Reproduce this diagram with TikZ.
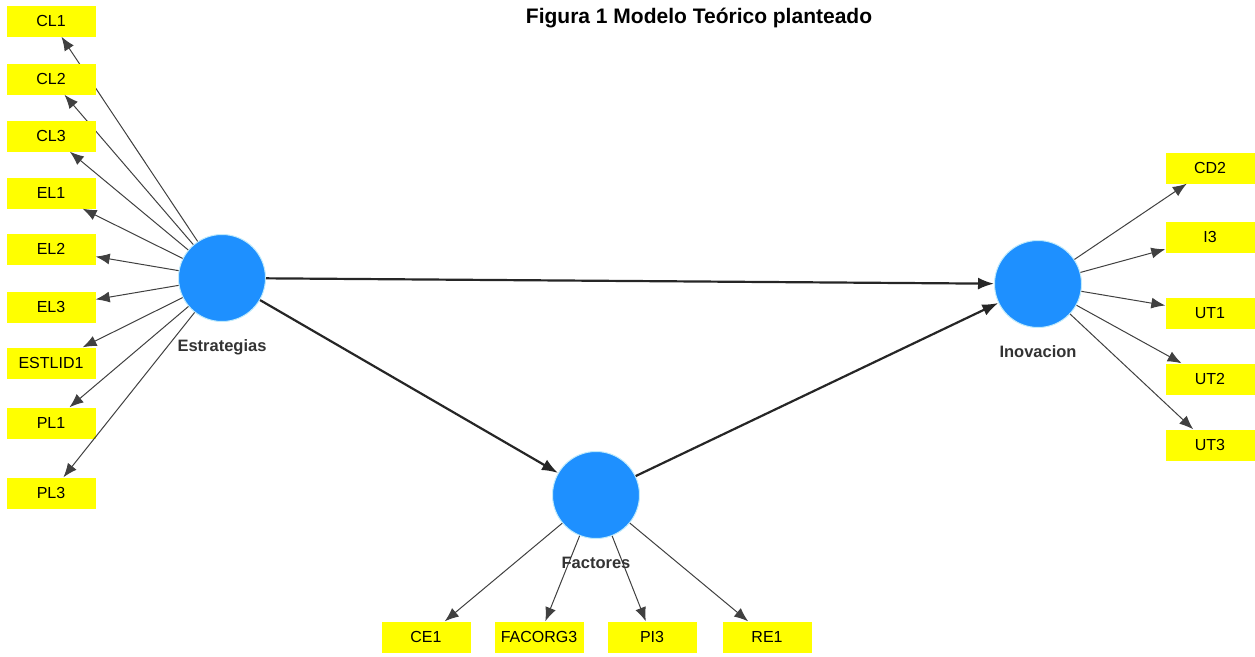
\documentclass[tikz,border=0pt]{standalone}
\usepackage{fontspec}
\setmainfont{Liberation Sans}
\usetikzlibrary{arrows.meta}
\definecolor{plsblue}{RGB}{30,144,255}
\definecolor{plsyellow}{RGB}{255,255,0}

\begin{document}
\begin{tikzpicture}[x=1pt,y=-1pt]

	\tikzstyle{myind}=[fill=plsyellow,minimum width=89pt,minimum height=31pt,inner sep=0pt,font=\fontsize{16}{18}\selectfont]
	\tikzstyle{mylat}=[circle,fill=plsblue,draw=cyan!25,line width=1pt,minimum size=87pt,inner sep=0pt]
	\tikzstyle{mylabel}=[font=\fontsize{16.5}{18}\selectfont\bfseries,text=black!80]
	\tikzstyle{myarrow}=[line width=1pt,black!75,-{Latex[length=14pt,width=11pt]}]
	\tikzstyle{mypath}=[line width=2.2pt,black!85,-{Latex[length=16pt,width=12pt]}]

	\useasboundingbox (0,0) rectangle (1255,656);

	\node[font=\fontsize{21}{24}\selectfont\bfseries] (title) at (699,18) {Figura 1 Modelo Teórico planteado};

	\node[mylat] (E) at (222,278) {};
	\node[mylat] (F) at (596,495) {};
	\node[mylat] (I) at (1038,284) {};

	\foreach \n / \y in {CL1/21,CL2/79,CL3/136,EL1/193,EL2/249,EL3/307,ESTLID1/363,PL1/423,PL3/493}{ \node[myind] (\n) at (51,\y) {\n}; \draw[myarrow] (E) -- (\n);}
	\foreach \n / \y in {CD2/168,I3/237,UT1/313,UT2/379,UT3/445}{ \node[myind] (\n) at (1210,\y) {\n}; \draw[myarrow] (I) -- (\n);}
	\foreach \n / \x in {CE1/426,FACORG3/539,PI3/652,RE1/767}{ \node[myind] (\n) at (\x,637) {\n}; \draw[myarrow] (F) -- (\n);}
%
	\draw[mypath] (E) -- (I);
	\draw[mypath] (E) -- (F);
	\draw[mypath] (F) -- (I);
%
	\node[mylabel] (Elab) at (222,347) {Estrategias};
	\node[mylabel] (Flab) at (596,563) {Factores};
	\node[mylabel] (Ilab) at (1038,352) {Inovacion};
\end{tikzpicture}
\end{document}
